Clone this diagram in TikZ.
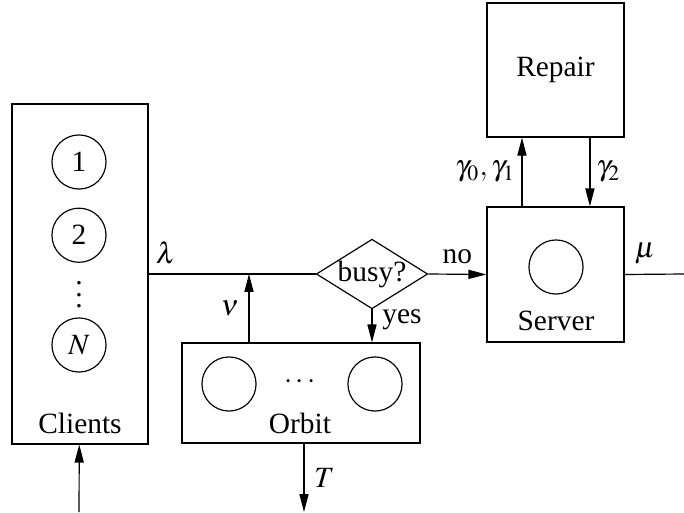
\documentclass[tikz,border=0pt]{standalone}
\usepackage{mathptmx}
\usepackage{fontspec}
\setmainfont{Liberation Serif}
\usetikzlibrary{arrows.meta, positioning, shapes.geometric}
\tikzset{
>={Triangle[length=6.1pt, width=3.1pt]}, % filled triangle heads
box/.style={draw, rectangle, inner sep=0pt}, % the big blocks
slot/.style={draw, circle, minimum size=18.4pt, inner sep=0pt}, % one place for a customer
test/.style={draw, diamond, aspect=1.6, inner sep=0pt, minimum width=37pt, minimum height=23.1pt}, % the decision
}

\begin{document}
\begin{tikzpicture}[x=0.34pt, y=0.34pt]
      \useasboundingbox (0,0) rectangle (684,512);

      % clients
      \node[box, minimum width=46.2pt, minimum height=115.6pt] (clients) at (80,238) {};
      \node[slot] (c1) at (79,350) {1};
      \node[slot, below=6.1pt of c1] (c2) {2};
      \node[inner sep=0pt] (cdots) at (79,226) {$\vdots$};
      \node[slot] (cN) at (79,167) {$N$};
      \node (clientsname) at (80,89) {Clients};

      % decision
      \node[test] (busy) at (372,238) {busy?};

      % orbit
      \node[box, minimum width=80.9pt, minimum height=34pt] (orbit) at (301,119) {};
      \node[slot] (o1) at (229,128) {};
      \node[slot] (o2) at (375,128) {};
      \node (odots) at (300,130) {$\cdots$};
      \node (orbitname) at (300,89) {Orbit};

      % server and repair
      \node[box, minimum width=46.6pt, minimum height=45.9pt] (server) at (555.5,237.5) {};
      \node[slot] (s1) at (556,245) {};
      \node (servername) at (556,191) {Server};
      \node[box, minimum width=46.6pt, minimum height=45.6pt] (repair) at (555.5,442) {Repair};

      \coordinate (src) at (79,0);
      \coordinate (join) at (249,238);
      \coordinate (sink) at (304,0);
      \coordinate (exit) at (684,238);

      \draw[->] (src) -- (clients);
      \draw (clients.east) -- node[pos=0, above right, xshift=-1pt]{$\lambda$} (busy.west);
      \draw[->] (join |- orbit.north) -- node[left]{$\nu$} (join);
      \draw[->] (busy.east) -- node[above]{no} (server.west);
      \draw[->] (busy.south) -- node[right, pos=0.3]{yes} (busy.south |- orbit.north);
      \draw[->] (sink |- orbit.south) -- node[right]{$T$} (sink);
      \draw[->] ([xshift=-11.4pt]server.north) -- node[left, inner sep=2pt]{$\gamma_0, \gamma_1$} ([xshift=-11.4pt]repair.south);
      \draw[->] ([xshift=11.7pt]repair.south) -- node[right, inner sep=2pt]{$\gamma_2$} ([xshift=11.7pt]server.north);
      \draw (server.east) -- node[pos=0, above right]{$\mu$} (exit);
\end{tikzpicture}
\end{document}
